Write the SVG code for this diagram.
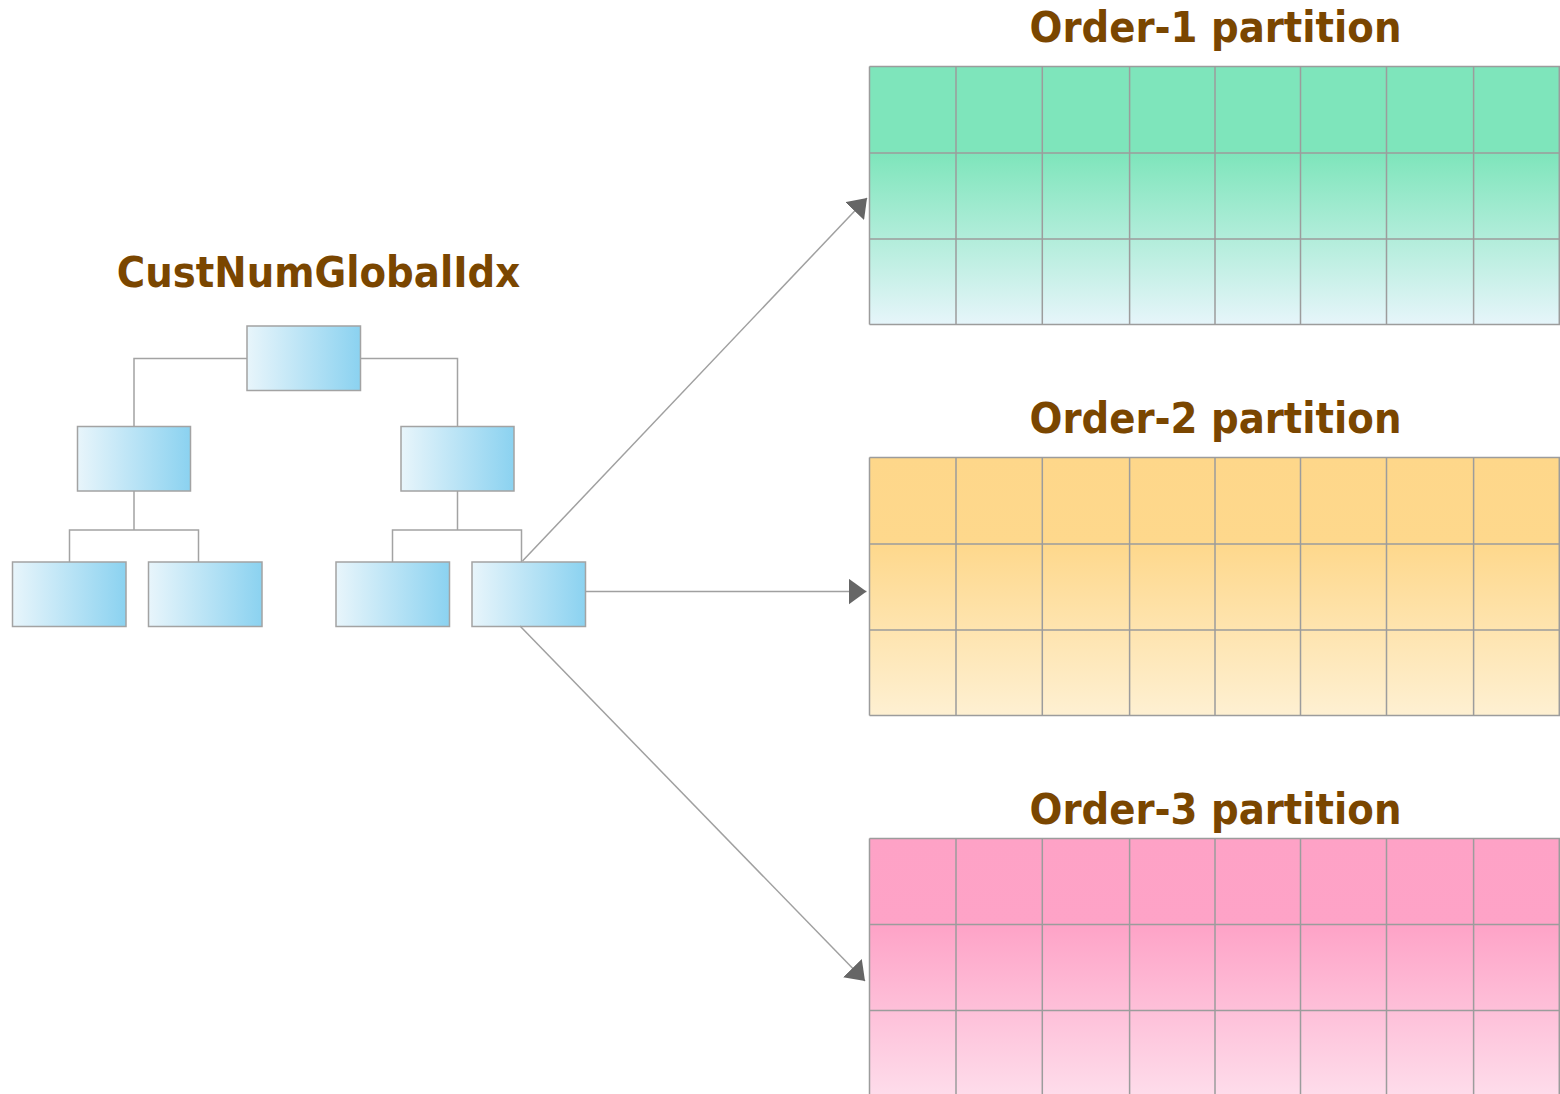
<svg xmlns="http://www.w3.org/2000/svg" width="1560" height="1094" viewBox="0 0 1560 1094">
<style>
.title{font-family:"DejaVu Sans Condensed","DejaVu Sans",Verdana,sans-serif;font-stretch:condensed;font-weight:bold;font-size:43px;fill:#7A4600;text-anchor:middle}
.node{stroke:#A3A3A3;stroke-width:1.5;fill:url(#blue)}
.tree{fill:none;stroke:#A3A3A3;stroke-width:1.5}
.grid{fill:none;stroke:#9C9C9C;stroke-width:1.5}
.arrow{fill:none;stroke:#A0A0A0;stroke-width:1.5;marker-end:url(#ah)}
</style>
<defs>
<linearGradient id="blue" x1="0" y1="0" x2="1" y2="0">
<stop offset="0" stop-color="#E8F5FB"/>
<stop offset="1" stop-color="#8BD2F0"/>
</linearGradient>
<linearGradient id="green" x1="0" y1="0" x2="0" y2="1">
<stop offset="0" stop-color="#7EE5BB"/>
<stop offset="0.335" stop-color="#7EE5BB"/>
<stop offset="1" stop-color="#E6F5FA"/>
</linearGradient>
<linearGradient id="orange" x1="0" y1="0" x2="0" y2="1">
<stop offset="0" stop-color="#FED78A"/>
<stop offset="0.335" stop-color="#FED88C"/>
<stop offset="1" stop-color="#FEF0D2"/>
</linearGradient>
<linearGradient id="pink" x1="0" y1="0" x2="0" y2="1">
<stop offset="0" stop-color="#FEA2C6"/>
<stop offset="0.335" stop-color="#FEA3C7"/>
<stop offset="1" stop-color="#FEDDEB"/>
</linearGradient>
<marker id="ah" viewBox="0 0 18 26" refX="18" refY="13" markerWidth="18" markerHeight="26" markerUnits="userSpaceOnUse" orient="auto">
<path d="M0,0 L18,13 L0,26 Z" fill="#666666"/>
</marker>
</defs>

<g id="label-index"><text class="title" x="318.5" y="287">CustNumGlobalIdx</text></g>

<g id="tree-links">
<path class="tree" d="M247,358.5 H134 V426 M360,358.5 H457.5 V426"/>
<path class="tree" d="M134,491 V530 M69.5,562 V530 H198.5 V562"/>
<path class="tree" d="M457.5,491 V530 M392.5,562 V530 H521.5 V562"/>
</g>

<g id="node-root"><rect class="node" x="247" y="326" width="113.5" height="64.5"/></g>
<g id="node-l"><rect class="node" x="77.5" y="426.5" width="113" height="64.5"/></g>
<g id="node-r"><rect class="node" x="401" y="426.5" width="113" height="64.5"/></g>
<g id="node-ll"><rect class="node" x="12.5" y="562" width="113.5" height="64.5"/></g>
<g id="node-lr"><rect class="node" x="148.5" y="562" width="113.5" height="64.5"/></g>
<g id="node-rl"><rect class="node" x="336" y="562" width="113.5" height="64.5"/></g>
<g id="node-rr"><rect class="node" x="472" y="562" width="113.5" height="64.5"/></g>

<g id="connectors">
<line class="arrow" x1="522.5" y1="561" x2="867" y2="198"/>
<line class="arrow" x1="585.5" y1="591.5" x2="866.5" y2="591.5"/>
<line class="arrow" x1="520" y1="626" x2="865" y2="981"/>
</g>

<g id="order1">
<text class="title" x="1215.5" y="42">Order-1 partition</text>
<rect x="869.5" y="66.5" width="691" height="258" fill="url(#green)"/>
<path class="grid" d="M869.5,66.5 H1561 M869.5,153 H1561 M869.5,239 H1561 M869.5,324.5 H1561 M869.5,66.5 V324.5 M956,66.5 V324.5 M1042.3,66.5 V324.5 M1129.6,66.5 V324.5 M1215,66.5 V324.5 M1300.5,66.5 V324.5 M1386.5,66.5 V324.5 M1473.6,66.5 V324.5 M1559.3,66.5 V324.5"/>
</g>

<g id="order2">
<text class="title" x="1215.5" y="433">Order-2 partition</text>
<rect x="869.5" y="457.5" width="691" height="258" fill="url(#orange)"/>
<path class="grid" d="M869.5,457.5 H1561 M869.5,544 H1561 M869.5,630 H1561 M869.5,715.5 H1561 M869.5,457.5 V715.5 M956,457.5 V715.5 M1042.3,457.5 V715.5 M1129.6,457.5 V715.5 M1215,457.5 V715.5 M1300.5,457.5 V715.5 M1386.5,457.5 V715.5 M1473.6,457.5 V715.5 M1559.3,457.5 V715.5"/>
</g>

<g id="order3">
<text class="title" x="1215.5" y="824">Order-3 partition</text>
<rect x="869.5" y="838.5" width="691" height="258" fill="url(#pink)"/>
<path class="grid" d="M869.5,838.5 H1561 M869.5,924.5 H1561 M869.5,1010.5 H1561 M869.5,838.5 V1100 M956,838.5 V1100 M1042.3,838.5 V1100 M1129.6,838.5 V1100 M1215,838.5 V1100 M1300.5,838.5 V1100 M1386.5,838.5 V1100 M1473.6,838.5 V1100 M1559.3,838.5 V1100"/>
</g>
</svg>
